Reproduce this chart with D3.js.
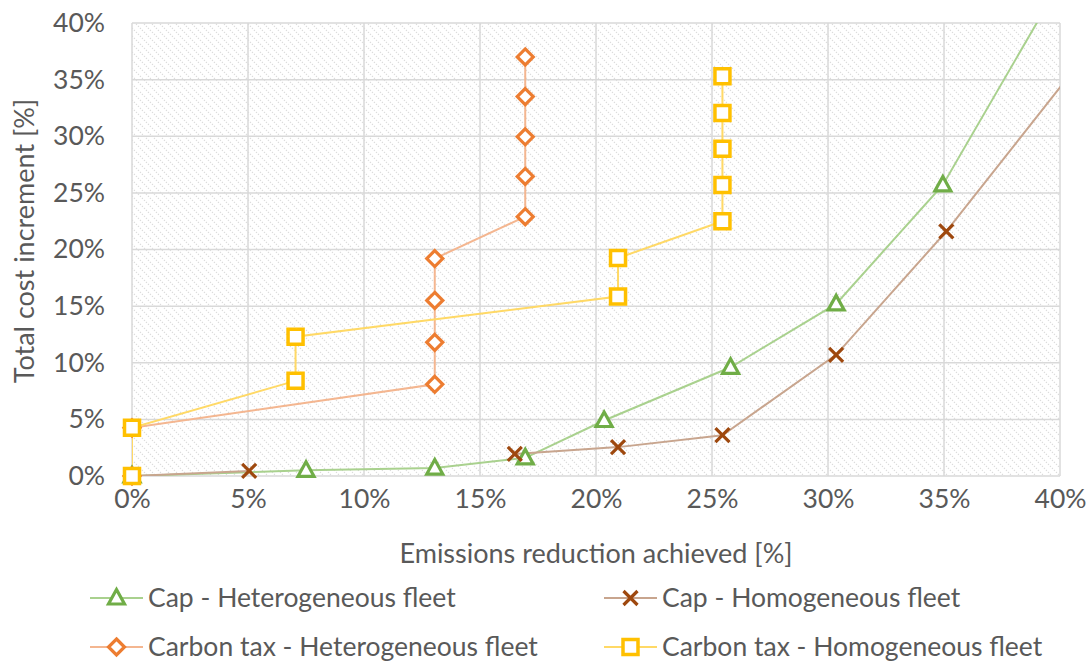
<!DOCTYPE html>
<html>
<head>
<meta charset="utf-8">
<script src="https://cdn.jsdelivr.net/npm/d3@7"></script>
<style>
  html, body { margin: 0; padding: 0; background: #fff; }
  svg text { font-family: Lato, "Open Sans", sans-serif; fill: #595959; }
</style>
</head>
<body>
<svg id="chart" width="1089" height="663"></svg>
<script>
// Emissions reduction achieved [%] (x) vs total cost increment [%] (y)
const capHetX = [0, 7.5, 13.05, 16.95, 20.35, 25.8, 30.35, 34.95, 40.5];
const capHetY = [0, 0.5, 0.7, 1.6, 4.9, 9.6, 15.2, 25.7, 45.3];

// null marks a break in the connecting line
const capHomX = [0, 5.05, null, 16.5, 20.95, 25.45, 30.35, 35.1, 41.0];
const capHomY = [0, 0.45, null, 1.95, 2.55, 3.6, 10.7, 21.6, 36.9];

const taxHetX = [0, 0, 13.05, 13.05, 13.05, 13.05, 16.95, 16.95, 16.95, 16.95, 16.95];
const taxHetY = [0, 4.25, 8.1, 11.8, 15.5, 19.2, 22.9, 26.45, 29.95, 33.5, 37.0];

const taxHomX = [0, 0, 7.05, 7.05, 20.95, 20.95, 25.45, 25.45, 25.45, 25.45, 25.45];
const taxHomY = [0, 4.25, 8.4, 12.3, 15.85, 19.25, 22.5, 25.7, 28.9, 32.05, 35.3];

const xTicks = [0, 5, 10, 15, 20, 25, 30, 35, 40];
const yTicks = [0, 5, 10, 15, 20, 25, 30, 35, 40];

const seriesNames = [
  "Cap - Heterogeneous fleet",
  "Cap - Homogeneous fleet",
  "Carbon tax - Heterogeneous fleet",
  "Carbon tax - Homogeneous fleet"
];

const svg = d3.select("#chart");
const plot = { left: 132, right: 1060, top: 23, bottom: 476 };
const fontSize = "26.5px";

const x = d3.scaleLinear().domain([0, 40]).range([plot.left, plot.right]);
const y = d3.scaleLinear().domain([0, 40]).range([plot.bottom, plot.top]);

const defs = svg.append("defs");
// light diagonal hatching for the plot background
const pat = defs.append("pattern")
  .attr("id", "hatch")
  .attr("patternUnits", "userSpaceOnUse")
  .attr("width", 8).attr("height", 8);
pat.append("path")
  .attr("d", "M-2,-2 L10,10 M-2,6 L2,10 M6,-2 L10,2")
  .attr("stroke", "#dadada")
  .attr("stroke-width", 1.1)
  .attr("stroke-dasharray", "1.4,1.4")
  .attr("fill", "none");

defs.append("clipPath").attr("id", "plotClip")
  .append("rect")
  .attr("x", plot.left).attr("y", plot.top)
  .attr("width", plot.right - plot.left).attr("height", plot.bottom - plot.top);

svg.append("rect")
  .attr("x", plot.left).attr("y", plot.top)
  .attr("width", plot.right - plot.left).attr("height", plot.bottom - plot.top)
  .attr("fill", "url(#hatch)");

// gridlines
const grid = svg.append("g");
grid.selectAll(".gx").data(xTicks).join("line")
  .attr("x1", d => x(d)).attr("x2", d => x(d))
  .attr("y1", plot.top).attr("y2", plot.bottom)
  .attr("stroke", "#d9d9d9").attr("stroke-width", 1.5);
grid.selectAll(".gy").data(yTicks).join("line")
  .attr("x1", plot.left).attr("x2", plot.right)
  .attr("y1", d => y(d)).attr("y2", d => y(d))
  .attr("stroke", "#d9d9d9").attr("stroke-width", 1.5);

// axes (labels only, the gridlines act as axis lines)
const xAxis = d3.axisBottom(x).tickValues(xTicks).tickFormat(d => d + "%").tickSize(0).tickPadding(24);
const yAxis = d3.axisLeft(y).tickValues(yTicks).tickFormat(d => d + "%").tickSize(0).tickPadding(27);

const gx = svg.append("g").attr("transform", `translate(0,${plot.bottom})`).call(xAxis);
const gy = svg.append("g").attr("transform", `translate(${plot.left},0)`).call(yAxis);
[gx, gy].forEach(g => {
  g.select(".domain").remove();
  g.selectAll("text").style("font-size", fontSize).style("fill", "#595959")
    .style("font-family", "Lato, 'Open Sans', sans-serif");
});
gx.selectAll("text").attr("dy", "0.32em");

svg.append("text")
  .attr("x", (plot.left + plot.right) / 2).attr("y", 563)
  .attr("text-anchor", "middle")
  .style("font-size", "27px")
  .text("Emissions reduction achieved [%]");

svg.append("text")
  .attr("transform", "translate(34,241) rotate(-90)")
  .attr("text-anchor", "middle")
  .style("font-size", "27px")
  .text("Total cost increment [%]");

// series styling
const styles = [
  { xs: capHetX, ys: capHetY, line: "#a9d18e", mark: "#70ad47", shape: "tri" },
  { xs: capHomX, ys: capHomY, line: "#c8a58e", mark: "#9e480e", shape: "x" },
  { xs: taxHetX, ys: taxHetY, line: "#f4b690", mark: "#ed7d31", shape: "diamond" },
  { xs: taxHomX, ys: taxHomY, line: "#ffd966", mark: "#ffc000", shape: "square" }
];

function markerPath(shape) {
  switch (shape) {
    case "tri": return "M0,-8.5 L8,6 L-8,6 Z";
    case "x": return "M-7,-7 L7,7 M-7,7 L7,-7";
    case "diamond": return "M0,-8 L8,0 L0,8 L-8,0 Z";
    case "square": return "M-7.5,-7.5 H7.5 V7.5 H-7.5 Z";
  }
}
function drawMarker(g, shape, color) {
  const p = g.append("path").attr("d", markerPath(shape));
  if (shape === "x") {
    p.attr("fill", "none").attr("stroke", color).attr("stroke-width", 3.2);
  } else {
    p.attr("fill", "#fff").attr("stroke", color)
     .attr("stroke-width", shape === "square" ? 3.5 : 3.2)
     .attr("stroke-linejoin", "miter");
  }
}

const lineGen = d3.line()
  .defined(d => d[0] !== null && d[1] !== null)
  .x(d => x(d[0])).y(d => y(d[1]));
const plotG = svg.append("g").attr("clip-path", "url(#plotClip)");
const markG = svg.append("g");

styles.forEach(s => {
  const pts = s.xs.map((v, i) => [v, s.ys[i]]);
  plotG.append("path").datum(pts)
    .attr("d", lineGen)
    .attr("fill", "none")
    .attr("stroke", s.line)
    .attr("stroke-width", 2);
  pts.filter(p => p[0] !== null && p[0] <= 40 && p[1] <= 40).forEach(p => {
    const g = markG.append("g").attr("transform", `translate(${x(p[0])},${y(p[1])})`);
    drawMarker(g, s.shape, s.mark);
  });
});

// legend
const legendPos = [
  { lx: 90, ly: 598 }, { lx: 604, ly: 598 },
  { lx: 90, ly: 647 }, { lx: 604, ly: 647 }
];
styles.forEach((s, i) => {
  const g = svg.append("g").attr("transform", `translate(${legendPos[i].lx},${legendPos[i].ly})`);
  g.append("line").attr("x1", 0).attr("x2", 53).attr("y1", 0).attr("y2", 0)
    .attr("stroke", s.line).attr("stroke-width", 2);
  const m = g.append("g").attr("transform", "translate(26.5,0)");
  drawMarker(m, s.shape, s.mark);
  g.append("text").attr("x", 58).attr("y", 0).attr("dy", "0.35em")
    .style("font-size", fontSize)
    .text(seriesNames[i]);
});
</script>
</body>
</html>
